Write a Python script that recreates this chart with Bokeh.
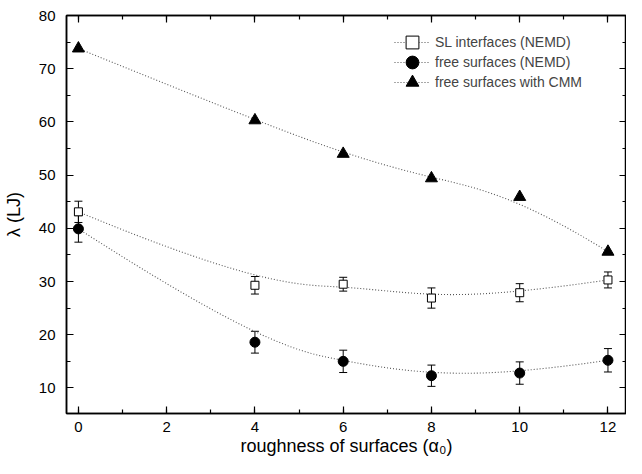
import numpy as np
from bokeh.plotting import figure
from bokeh.models import (ColumnDataSource, Whisker, LinearAxis, Range1d, Legend,
                          LegendItem, FixedTicker, CustomJSTickFormatter, TeeHead)
from bokeh.embed import file_html
from bokeh.resources import INLINE

# ---- data ----
x_vals = [0, 4, 6, 8, 10, 12]
sl_vals = [43.1, 29.3, 29.5, 26.9, 27.9, 30.3]
sl_err = [2.0, 1.65, 1.3, 1.9, 1.7, 1.5]
free_vals = [39.9, 18.6, 15.0, 12.3, 12.8, 15.2]
free_err = [2.5, 2.05, 2.1, 2.0, 2.1, 2.2]
cmm_vals = [73.8, 60.3, 54.0, 49.4, 45.9, 35.6]

x_ticks = [0, 2, 4, 6, 8, 10, 12]
y_ticks = [10, 20, 30, 40, 50, 60, 70, 80]
labels = ["SL interfaces (NEMD)", "free surfaces (NEMD)", "free surfaces with CMM"]

FONT = "Liberation Sans"


def bspline(xs, ys, degree=3, n=300):
    cp = np.column_stack([xs, ys]).astype(float)
    m = len(cp)
    k = degree
    inner = np.linspace(0, 1, m - k + 1)
    knots = np.concatenate([[0.0] * k, inner, [1.0] * k])
    out = []
    for t in np.linspace(0, 1, n):
        s = int(np.searchsorted(knots, t, side="right") - 1)
        s = min(s, m - 1)
        d = [cp[j + s - k].copy() for j in range(k + 1)]
        for r in range(1, k + 1):
            for j in range(k, r - 1, -1):
                den = knots[j + 1 + s - r] - knots[j + s - k]
                a = 0.0 if den == 0 else (t - knots[j + s - k]) / den
                d[j] = (1 - a) * d[j - 1] + a * d[j]
        out.append(d[k])
    out = np.array(out)
    return out[:, 0], out[:, 1]


p = figure(width=626, height=458, x_range=Range1d(-0.27, 12.42), y_range=Range1d(5.2, 80),
           output_backend="svg", toolbar_location=None,
           min_border_left=61, min_border_top=7, min_border_bottom=0, min_border_right=0)
p.grid.visible = False
p.outline_line_color = "black"
p.outline_line_width = 1.5
p.background_fill_color = "white"
p.border_fill_color = "white"

# axes styling
def style_axis(ax, ticks, minor, show_labels):
    ax.ticker = FixedTicker(ticks=ticks, minor_ticks=minor)
    ax.axis_line_color = "black"
    ax.axis_line_width = 1.5
    ax.major_tick_in = 7
    ax.major_tick_out = 0
    ax.minor_tick_in = 4
    ax.minor_tick_out = 0
    ax.major_tick_line_width = 1.2
    ax.minor_tick_line_width = 1.2
    ax.major_tick_line_color = "black"
    ax.minor_tick_line_color = "black"
    ax.major_label_text_font = FONT
    ax.major_label_text_font_size = "15px"
    ax.major_label_text_color = "black"
    if not show_labels:
        ax.formatter = CustomJSTickFormatter(code="return ''")
        ax.major_label_text_font_size = "0px"
        ax.major_label_standoff = 0

x_minor = list(range(0, 13))
y_minor = list(range(5, 81, 5))

xa = p.xaxis[0]
ya = p.yaxis[0]
style_axis(xa, x_ticks, x_minor, True)
style_axis(ya, y_ticks, y_minor, True)
xa.major_label_standoff = 8
ya.major_label_standoff = 11
xa.axis_label = "roughness of surfaces (α₀)"
ya.axis_label = "λ (LJ)"
for ax in (xa, ya):
    ax.axis_label_text_font = FONT
    ax.axis_label_text_font_size = "18px"
    ax.axis_label_text_font_style = "normal"
    ax.axis_label_text_color = "black"
xa.axis_label_standoff = 1
ya.axis_label_standoff = 12

top = LinearAxis()
right = LinearAxis()
style_axis(top, x_ticks, x_minor, False)
style_axis(right, y_ticks, y_minor, False)
p.add_layout(top, "above")
p.add_layout(right, "right")
p.min_border_top = 15

line_kw = dict(line_color="#555555", line_width=1.1, line_dash="1 2")

# curves
bx, by = bspline(x_vals, sl_vals)
l_sl = p.line(bx, by, **line_kw)
bx, by = bspline(x_vals, free_vals)
l_free = p.line(bx, by, **line_kw)
bx, by = bspline(x_vals, cmm_vals)
l_cmm = p.line(bx, by, **line_kw)

# error bars
for vals, errs in ((sl_vals, sl_err), (free_vals, free_err)):
    src = ColumnDataSource(dict(x=x_vals,
                                lo=[v - e for v, e in zip(vals, errs)],
                                hi=[v + e for v, e in zip(vals, errs)]))
    w = Whisker(base="x", lower="lo", upper="hi", source=src, line_color="black", line_width=1,
                upper_head=TeeHead(size=8, line_color="black", line_width=1),
                lower_head=TeeHead(size=8, line_color="black", line_width=1))
    p.add_layout(w)

# markers
s_sl = p.scatter(x_vals, sl_vals, marker="square", size=8, fill_color="white",
                 line_color="black", line_width=1)
s_free = p.scatter(x_vals, free_vals, marker="circle", size=10, fill_color="black",
                   line_color="black")
s_cmm = p.scatter(x_vals, cmm_vals, marker="triangle", size=12, fill_color="black",
                  line_color="black")

# one legend per row so marker size and row spacing can both match
rows = [(labels[0], [l_sl, s_sl], 355), (labels[1], [l_free, s_free], 335),
        (labels[2], [l_cmm, s_cmm], 315)]
for lab, rends, ypos in rows:
    lg = Legend(items=[LegendItem(label=lab, renderers=rends)],
                location=(328, ypos), padding=0, margin=0, spacing=0,
                glyph_width=36, glyph_height=32, label_height=19, label_standoff=5,
                label_text_font=FONT, label_text_font_size="14px",
                background_fill_alpha=0, border_line_alpha=0)
    p.add_layout(lg, "center")

open("out.html", "w").write(file_html(p, INLINE))
